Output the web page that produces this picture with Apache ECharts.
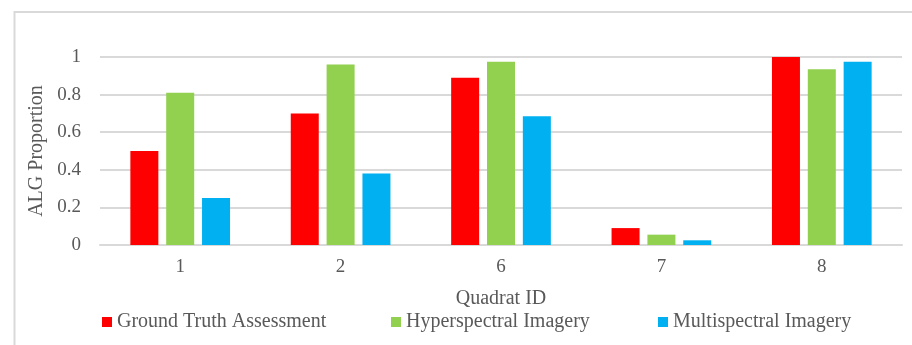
<!DOCTYPE html>
<html>
<head>
<meta charset="utf-8">
<script src="https://cdn.jsdelivr.net/npm/echarts@6/dist/echarts.min.js"></script>
<style>
  html, body { margin: 0; padding: 0; background: #fff; }
  #chart { width: 912px; height: 345px; }
</style>
</head>
<body>
<div id="chart"></div>
<script>
// Quadrat categories and ALG proportion per method
const quadrats = ['1', '2', '6', '7', '8'];
const groundTruth = [0.50, 0.70, 0.89, 0.09, 1.00];
const hyperspectral = [0.81, 0.96, 0.975, 0.055, 0.935];
const multispectral = [0.25, 0.38, 0.685, 0.025, 0.975];
const seriesNames = ['Ground Truth Assessment', 'Hyperspectral Imagery', 'Multispectral Imagery'];
const seriesColors = ['#ff0000', '#92d050', '#00b0f0'];

const FONT = '"Liberation Serif", "Times New Roman", serif';
const TEXT = '#595959';
const GRID = '#d9d9d9';

const chart = echarts.init(document.getElementById('chart'), null, { renderer: 'canvas' });

function legendFor(i, left) {
  return {
    data: [seriesNames[i]],
    left: left,
    top: 312,
    icon: 'rect',
    itemWidth: 10,
    itemHeight: 10,
    itemGap: 0,
    padding: 0,
    textStyle: { fontFamily: FONT, fontSize: 20, color: TEXT, padding: [0, 0, 0, 0] }
  };
}

chart.setOption({
  animation: false,
  backgroundColor: '#fff',
  graphic: [{
    type: 'rect',
    shape: { x: 14.5, y: 12, width: 1000, height: 500 },
    style: { fill: 'none', stroke: GRID, lineWidth: 2 },
    silent: true
  }],
  grid: { left: 100, right: 10, top: 57, bottom: 100, containLabel: false },
  legend: [legendFor(0, 102), legendFor(1, 391), legendFor(2, 658)],
  xAxis: {
    type: 'category',
    data: quadrats,
    axisLine: { lineStyle: { color: GRID, width: 2 } },
    axisTick: { show: false },
    axisLabel: { fontFamily: FONT, fontSize: 19, color: TEXT, margin: 13 },
    name: 'Quadrat ID',
    nameLocation: 'middle',
    nameGap: 44,
    nameTextStyle: { fontFamily: FONT, fontSize: 20, color: TEXT }
  },
  yAxis: {
    type: 'value',
    min: 0,
    max: 1,
    interval: 0.2,
    axisLine: { show: false },
    axisTick: { show: false },
    splitLine: { lineStyle: { color: GRID, width: 2 } },
    axisLabel: {
      fontFamily: FONT, fontSize: 19, color: TEXT, margin: 19,
      formatter: v => String(Math.round(v * 10) / 10)
    },
    name: 'ALG Proportion',
    nameLocation: 'middle',
    nameGap: 47,
    nameTextStyle: { fontFamily: FONT, fontSize: 20, color: TEXT }
  },
  series: [groundTruth, hyperspectral, multispectral].map((vals, i) => ({
    name: seriesNames[i],
    type: 'bar',
    data: vals,
    barWidth: 28,
    barGap: '28%',
    itemStyle: { color: seriesColors[i] }
  }))
});
</script>
</body>
</html>
